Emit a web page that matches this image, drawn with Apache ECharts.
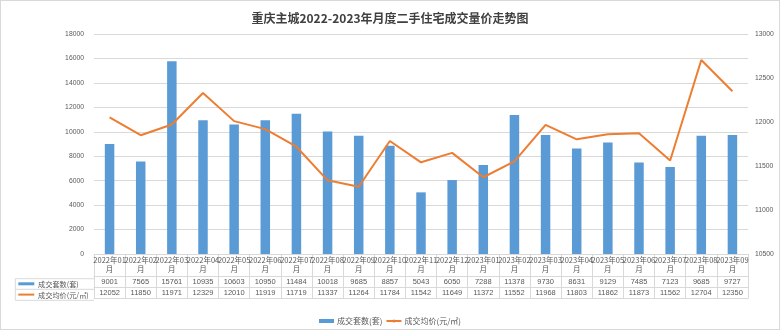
<!DOCTYPE html>
<html>
<head>
<meta charset="utf-8">
<script src="https://cdn.jsdelivr.net/npm/echarts@6/dist/echarts.min.js"></script>
<style>
  html, body { margin: 0; padding: 0; background: #fff; }
  #chart { width: 780px; height: 330px; box-sizing: border-box; border: 1px solid #d9d9d9; }
</style>
</head>
<body>
<div id="chart"></div>
<script>
const categories = ["2022年01月","2022年02月","2022年03月","2022年04月","2022年05月","2022年06月","2022年07月","2022年08月","2022年09月","2022年10月","2022年11月","2022年12月","2023年01月","2023年02月","2023年03月","2023年04月","2023年05月","2023年06月","2023年07月","2023年08月","2023年09月"];
const volumes = [9001,7565,15761,10935,10603,10950,11484,10018,9685,8857,5043,6050,7288,11378,9730,8631,9129,7485,7123,9685,9727];
const prices = [12052,11850,11971,12329,12010,11919,11719,11337,11264,11784,11542,11649,11372,11552,11968,11803,11862,11873,11562,12704,12350];
const seriesNames = ["成交套数(套)", "成交均价(元/㎡)"];
const titleText = "重庆主城2022-2023年月度二手住宅成交量价走势图";

const BLUE = "#5B9BD5", ORANGE = "#ED7D31", GRID = "#d9d9d9", TXT = "#595959";
const CJK = "'Noto Sans CJK SC', sans-serif";
const NUM = "'Liberation Sans', Arial, sans-serif";

const chart = echarts.init(document.getElementById('chart'), null, {renderer: 'canvas'});
const gl = 93, gr = 31, gt = 33, gb = 75;
const y0 = 330 - gb; // 255
const rowA = y0 + 22.7, rowB = y0 + 33.3, rowC = y0 + 44.3;
const tableLeft = 14.3;

function rowAxis(data, offset, showLabel, lh) {
  return {
    type: 'category', gridIndex: 0, position: 'bottom', offset: offset,
    data: data, boundaryGap: true,
    axisLine: {show: true, lineStyle: {color: GRID, width: 1}},
    axisTick: {show: false},
    axisLabel: {show: showLabel, interval: 0, fontSize: 7.5, color: TXT, fontFamily: NUM, margin: 0, lineHeight: lh, verticalAlign: 'top'},
    splitLine: {show: false}
  };
}

chart.setOption({
  animation: false,
  title: {text: titleText, left: 'center', top: 6, textStyle: {fontSize: 12, fontWeight: 'bold', color: '#404040', fontFamily: CJK}},
  grid: {left: gl, right: gr, top: gt, bottom: gb},
  legend: {
    data: [{name: seriesNames[0], icon: 'rect'}, {name: seriesNames[1]}],
    left: 'center', top: 311, itemWidth: 15, itemHeight: 4, itemGap: 3,
    textStyle: {fontSize: 8, color: TXT, fontFamily: CJK, padding: [0,0,0,-2]}
  },
  xAxis: [
    {
      type: 'category', data: categories, position: 'bottom', boundaryGap: true,
      axisLine: {show: true, lineStyle: {color: GRID}},
      axisTick: {show: true, interval: 0, length: rowC - y0, lineStyle: {color: GRID}},
      axisLabel: {interval: 0, fontSize: 7.5, color: TXT, fontFamily: CJK, margin: 2, lineHeight: 9,
        formatter: v => v.slice(0, -1) + '\n' + v.slice(-1)},
      splitLine: {show: false}
    },
    rowAxis(volumes.map(String), rowA - y0, true, 10.6),
    rowAxis(prices.map(String), rowB - y0, true, 11),
    rowAxis(categories, rowC - y0, false, 10)
  ],
  yAxis: [
    {
      type: 'value', min: 0, max: 18000, interval: 2000,
      axisLine: {show: false}, axisTick: {show: false},
      axisLabel: {fontSize: 6.8, color: TXT, fontFamily: NUM, margin: 10, formatter: v => String(v)},
      splitLine: {lineStyle: {color: GRID, width: 1}}
    },
    {
      type: 'value', min: 10500, max: 13000, interval: 500, position: 'right',
      axisLine: {show: false}, axisTick: {show: false},
      axisLabel: {fontSize: 6.8, color: TXT, fontFamily: NUM, margin: 7, formatter: v => String(v)},
      splitLine: {show: false}
    }
  ],
  series: [
    {name: seriesNames[0], type: 'bar', xAxisIndex: 0, yAxisIndex: 0, data: volumes, barWidth: 9.5, itemStyle: {color: BLUE}},
    {name: seriesNames[1], type: 'line', xAxisIndex: 0, yAxisIndex: 1, data: prices, symbol: 'none', lineStyle: {color: ORANGE, width: 2}, itemStyle: {color: ORANGE}}
  ],
  graphic: [
    {type: 'line', shape: {x1: tableLeft, y1: rowA, x2: gl, y2: rowA}, style: {stroke: GRID, lineWidth: 1}},
    {type: 'line', shape: {x1: tableLeft, y1: rowB, x2: gl, y2: rowB}, style: {stroke: GRID, lineWidth: 1}},
    {type: 'line', shape: {x1: tableLeft, y1: rowC, x2: gl, y2: rowC}, style: {stroke: GRID, lineWidth: 1}},
    {type: 'line', shape: {x1: tableLeft, y1: rowA, x2: tableLeft, y2: rowC}, style: {stroke: GRID, lineWidth: 1}},
    {type: 'rect', shape: {x: 17.3, y: 281.3, width: 16, height: 3}, style: {fill: BLUE}},
    {type: 'text', x: 37, y: (rowA + rowB) / 2, style: {text: seriesNames[0], fontSize: 7.2, fill: TXT, fontFamily: CJK, verticalAlign: 'middle'}},
    {type: 'line', shape: {x1: 17.3, y1: 293.6, x2: 33.3, y2: 293.6}, style: {stroke: ORANGE, lineWidth: 2}},
    {type: 'text', x: 37, y: (rowB + rowC) / 2, style: {text: seriesNames[1], fontSize: 7.2, fill: TXT, fontFamily: CJK, verticalAlign: 'middle'}}
  ]
});
</script>
</body>
</html>
